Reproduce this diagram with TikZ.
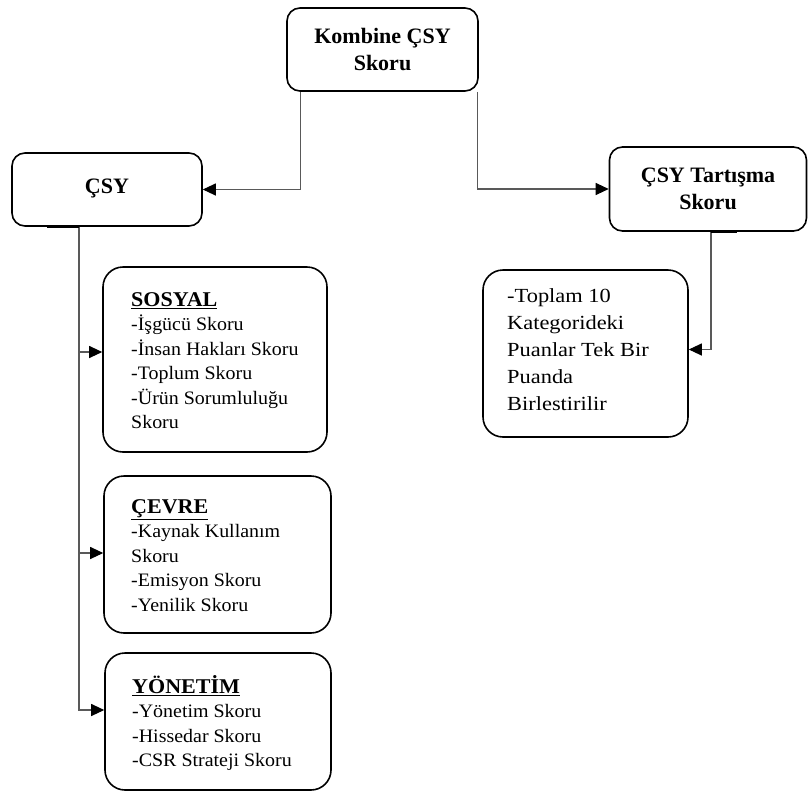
\documentclass[tikz,border=0pt]{standalone}
\usepackage{fontspec}
\setmainfont{Liberation Serif}
\newfontfamily\listfont{Liberation Serif}[FakeStretch=1.05]
\newfontfamily\wideListfont{Liberation Serif}[FakeStretch=1.12]
\usetikzlibrary{arrows.meta}
\begin{document}
\begin{tikzpicture}[x=1pt,y=-1pt,
  box/.style={draw=black, line width=1.6pt, rounded corners=13pt, inner sep=0pt},
  listbox/.style={box, rounded corners=20pt},
  titlefont/.style={font=\fontsize{22}{27}\selectfont\bfseries, align=center},
  listtext/.style={font=\listfont\fontsize{19}{24.5}\selectfont, align=left, anchor=north west, inner sep=0pt},
  conn/.style={draw=black!65, line width=1.1pt, -{Triangle[length=13pt,width=12pt,color=black]}},
  stub/.style={draw=black, line width=2.6pt}
]
\useasboundingbox (0,0) rectangle (808,793);
\fill[white] (0,0) rectangle (808,793);

% top-level boxes
\node[box, titlefont, minimum width=191pt, minimum height=83pt] (k) at (382.5,49.5) {Kombine ÇSY\\Skoru};
\node[box, titlefont, minimum width=190pt, minimum height=73pt] (csy) at (107,189.5) {\raisebox{6pt}{ÇSY}};
\node[box, titlefont, minimum width=197pt, minimum height=84pt] (t) at (708,189) {ÇSY Tartışma\\Skoru};

% right list box
\node[listbox, minimum width=205pt, minimum height=167pt] (top) at (585.5,353.5) {};
\node[listtext, font=\wideListfont\fontsize{20}{27}\selectfont] (toptxt) at (507,288) {-Toplam 10\\Kategorideki\\Puanlar Tek Bir\\Puanda\\Birlestirilir};

% left list boxes
\node[listbox, minimum width=224pt, minimum height=185pt] (sos) at (215,359.5) {};
\node[listtext] (sostxt) at (131,292) {\underline{\bfseries\fontsize{21}{24}\selectfont SOSYAL}\\-İşgücü Skoru\\-İnsan Hakları Skoru\\-Toplum Skoru\\-Ürün Sorumluluğu\\Skoru};

\node[listbox, minimum width=227pt, minimum height=157pt] (cev) at (217.5,554.5) {};
\node[listtext] (cevtxt) at (131,499) {\underline{\bfseries\fontsize{21}{24}\selectfont ÇEVRE}\\-Kaynak Kullanım\\Skoru\\-Emisyon Skoru\\-Yenilik Skoru};

\node[listbox, minimum width=226pt, minimum height=137pt] (yon) at (218,721.5) {};
\node[listtext] (yontxt) at (132,675) {\underline{\bfseries\fontsize{21}{24}\selectfont YÖNETİM}\\-Yönetim Skoru\\-Hissedar Skoru\\-CSR Strateji Skoru};

% connectors
\coordinate (kl) at ([xshift=-82pt]k.south);
\coordinate (kr) at ([xshift=95pt]k.south);
\coordinate (tb) at ([xshift=3pt]t.south);
\coordinate (cb) at ([xshift=-28pt]csy.south);
\draw[conn] (kl) |- (csy.east);
\draw[conn] (kr) |- (t.west);
\draw[conn] (tb) |- ([yshift=4pt]top.east);
\draw[conn] (cb) |- ([yshift=7.5pt]sos.west);
\draw[conn] (cb) |- ([yshift=1.5pt]cev.west);
\draw[conn] (cb) |- ([yshift=11.5pt]yon.west);

% short thick stubs on box bottoms
\draw[stub] ([xshift=-60pt]csy.south) -- (cb);
\draw[stub] (tb) -- ([xshift=29pt]t.south);
\end{tikzpicture}
\end{document}
